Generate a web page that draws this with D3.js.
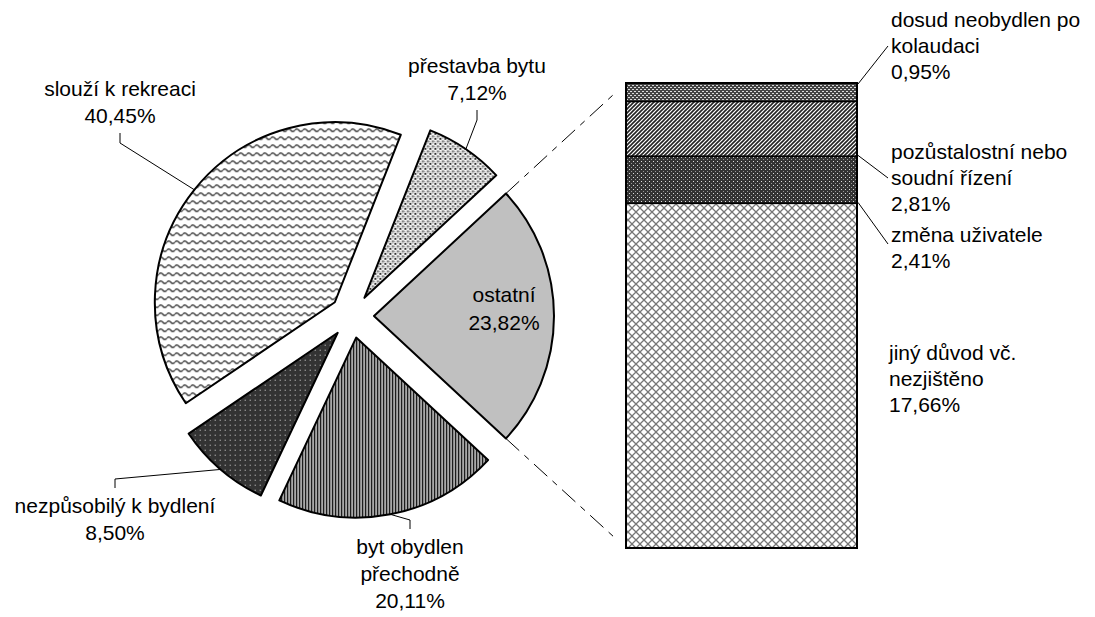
<!DOCTYPE html>
<html>
<head>
<meta charset="utf-8">
<script src="https://cdn.jsdelivr.net/npm/d3@7"></script>
<style>
  body { margin: 0; background: #fff; }
  svg text { font-family: "Liberation Sans", Arial, sans-serif; font-size: 21px; fill: #000; }
</style>
</head>
<body>
<svg id="chart" width="1095" height="617"></svg>
<script>
// pie slices (clockwise, starting with the "ostatní" slice that faces the bar)
const pieNames = ['ostatní', 'byt obydlen přechodně', 'nezpůsobilý k bydlení', 'slouží k rekreaci', 'přestavba bytu'];
const pieValues = [23.82, 20.11, 8.50, 40.45, 7.12];
const piePatterns = ['solidGray', 'vStripes', 'darkDots', 'waves', 'dotGrid'];

// breakdown of "ostatní" shown in the bar (top to bottom)
const barNames = ['dosud neobydlen po kolaudaci', 'pozůstalostní nebo soudní řízení', 'změna uživatele', 'jiný důvod vč. nezjištěno'];
const barValues = [0.95, 2.81, 2.41, 17.66];
const barPatterns = ['dashes', 'diag', 'darkCross', 'trellis'];

const fmt = v => v.toFixed(2).replace('.', ',') + '%';

const svg = d3.select('#chart');
const defs = svg.append('defs');

// --- fill patterns ---
const pat = (id, w, h) => defs.append('pattern')
  .attr('id', id).attr('patternUnits', 'userSpaceOnUse')
  .attr('width', w).attr('height', h);

let p = pat('waves', 8, 8);
p.append('rect').attr('width', 8).attr('height', 8).attr('fill', '#fff');
p.append('path').attr('d', 'M0,4 Q2,1.5 4,4 T8,4').attr('fill', 'none').attr('stroke', '#444').attr('stroke-width', 1.5);

p = pat('dotGrid', 5, 5);
p.append('rect').attr('width', 5).attr('height', 5).attr('fill', '#fff');
p.append('rect').attr('x', 0).attr('y', 0).attr('width', 2).attr('height', 2).attr('fill', '#333');
p.append('rect').attr('x', 2.5).attr('y', 2.5).attr('width', 2).attr('height', 2).attr('fill', '#555');
p.append('rect').attr('x', 3).attr('y', 0).attr('width', 1).attr('height', 1).attr('fill', '#999');
p.append('rect').attr('x', 0).attr('y', 3).attr('width', 1).attr('height', 1).attr('fill', '#999');

p = pat('darkDots', 5, 5);
p.append('rect').attr('width', 5).attr('height', 5).attr('fill', '#333');
p.append('rect').attr('x', 2).attr('y', 2).attr('width', 1).attr('height', 1).attr('fill', '#ddd');

p = pat('vStripes', 3, 3);
p.append('rect').attr('width', 3).attr('height', 3).attr('fill', '#a8a8a8');
p.append('rect').attr('width', 1).attr('height', 3).attr('fill', '#000');

p = pat('solidGray', 4, 4);
p.append('rect').attr('width', 4).attr('height', 4).attr('fill', '#c0c0c0');

p = pat('dashes', 4, 4);
p.append('rect').attr('width', 4).attr('height', 4).attr('fill', '#444');
p.append('rect').attr('x', 0).attr('y', 1).attr('width', 2).attr('height', 1).attr('fill', '#ddd');
p.append('rect').attr('x', 2).attr('y', 3).attr('width', 2).attr('height', 1).attr('fill', '#ddd');

p = pat('diag', 4, 4);
p.append('rect').attr('width', 4).attr('height', 4).attr('fill', '#fff');
p.append('path').attr('d', 'M-1,1 L1,-1 M0,4 L4,0 M3,5 L5,3').attr('stroke', '#222').attr('stroke-width', 1.6);

p = pat('darkCross', 4, 4);
p.append('rect').attr('width', 4).attr('height', 4).attr('fill', '#333');
p.append('rect').attr('x', 1).attr('y', 1).attr('width', 1).attr('height', 1).attr('fill', '#ddd');
p.append('rect').attr('x', 3).attr('y', 3).attr('width', 1).attr('height', 1).attr('fill', '#999');

p = pat('trellis', 8, 8);
p.append('rect').attr('width', 8).attr('height', 8).attr('fill', '#fff');
p.append('path').attr('d', 'M0,0 L8,8 M8,0 L0,8').attr('stroke', '#777').attr('stroke-width', 1.3);

// --- pie ---
const cx = 352, cy = 316, R = 180, EXPLODE = 22;
const total = d3.sum(pieValues);
const start = Math.PI / 2 - Math.PI * pieValues[0] / total;

const pie = d3.pie().sort(null).value(d => d)
  .startAngle(start).endAngle(start + 2 * Math.PI);
const arcs = pie(pieValues);
const arc = d3.arc().innerRadius(0).outerRadius(R);

const mid = d => (d.startAngle + d.endAngle) / 2;
const offset = (d, r) => [Math.sin(mid(d)) * r, -Math.cos(mid(d)) * r];

const slices = svg.append('g').attr('transform', `translate(${cx},${cy})`)
  .selectAll('g').data(arcs).enter().append('g')
  .attr('transform', d => 'translate(' + offset(d, EXPLODE) + ')');

slices.append('path')
  .attr('d', arc)
  .attr('fill', (d, i) => `url(#${piePatterns[i]})`)
  .attr('stroke', '#000')
  .attr('stroke-width', 2)
  .attr('stroke-linejoin', 'round');

// label layout for outside labels: [anchor x, anchor y, text side, wrapped name]
const pieLabelPos = [
  null,
  [410, 529, 'below', ['byt obydlen', 'přechodně']],
  [115, 488, 'below', ['nezpůsobilý k bydlení']],
  [120, 133, 'above', ['slouží k rekreaci']],
  [477, 110, 'above', ['přestavba bytu']]
];
const LH = 27;

arcs.forEach((d, i) => {
  const [ox, oy] = offset(d, EXPLODE);
  if (i === 0) {
    // inside label
    const [lx, ly] = offset(d, 130);
    const t = svg.append('text').attr('text-anchor', 'middle');
    t.append('tspan').attr('x', cx + ox + lx).attr('y', cy + oy + ly - 14).text(pieNames[i]);
    t.append('tspan').attr('x', cx + ox + lx).attr('y', cy + oy + ly + 14).text(fmt(pieValues[i]));
    return;
  }
  const [ax, ay] = offset(d, R);
  const edge = [cx + ox + ax, cy + oy + ay];
  const [tx, ty, side, lines] = pieLabelPos[i];
  const stub = side === 'below' ? ty - 9 : ty + 10;
  svg.append('polyline')
    .attr('points', [edge, [tx, stub], [tx, ty]].map(q => q.join(',')).join(' '))
    .attr('fill', 'none').attr('stroke', '#000').attr('stroke-width', 1);

  const all = lines.concat([fmt(pieValues[i])]);
  const t = svg.append('text').attr('text-anchor', 'middle');
  all.forEach((s, k) => {
    const y = side === 'below'
      ? ty + 25 + k * LH
      : ty - 10 - (all.length - 1 - k) * LH;
    t.append('tspan').attr('x', tx).attr('y', y).text(s);
  });
});

// --- bar ---
const barX = 626, barW = 231, barTop = 83, barBottom = 548;
const y = d3.scaleLinear().domain([0, d3.sum(barValues)]).range([barTop, barBottom]);
const cum = barValues.map((v, i) => d3.sum(barValues.slice(0, i)));

svg.append('g').selectAll('rect').data(barValues).enter().append('rect')
  .attr('x', barX)
  .attr('y', (d, i) => y(cum[i]))
  .attr('width', barW)
  .attr('height', (d, i) => y(cum[i] + d) - y(cum[i]))
  .attr('fill', (d, i) => `url(#${barPatterns[i]})`)
  .attr('stroke', '#000')
  .attr('stroke-width', 1.5);

svg.append('rect')
  .attr('x', barX).attr('y', barTop).attr('width', barW).attr('height', barBottom - barTop)
  .attr('fill', 'none').attr('stroke', '#000').attr('stroke-width', 2);

// series lines from the "ostatní" slice to the bar
const o = arcs[0];
const [oox, ooy] = offset(o, EXPLODE);
const cornerTop = [cx + oox + Math.sin(o.startAngle) * R, cy + ooy - Math.cos(o.startAngle) * R];
const cornerBot = [cx + oox + Math.sin(o.endAngle) * R, cy + ooy - Math.cos(o.endAngle) * R];
[[cornerTop, [barX, barTop]], [cornerBot, [barX, barBottom]]].forEach(([a, b]) => {
  const f = 0.9;
  svg.append('line')
    .attr('x1', a[0]).attr('y1', a[1])
    .attr('x2', a[0] + (b[0] - a[0]) * f).attr('y2', a[1] + (b[1] - a[1]) * f)
    .attr('stroke', '#000').attr('stroke-width', 1)
    .attr('stroke-dasharray', '18,7,6,7');
});

// bar labels: [text left x, middle line baseline, wrapped name]
const barLabelPos = [
  [891, 53, ['dosud neobydlen po', 'kolaudaci']],
  [891, 185, ['pozůstalostní nebo', 'soudní řízení']],
  [891, 242, ['změna uživatele']],
  [889, 386, ['jiný důvod vč.', 'nezjištěno']]
];
const BLH = 26;
barValues.forEach((v, i) => {
  const [lx, base, lines] = barLabelPos[i];
  const all = lines.concat([fmt(v)]);
  const first = all.length === 3 ? base - BLH : base;
  const t = svg.append('text');
  all.forEach((s, k) => t.append('tspan').attr('x', lx).attr('y', first + k * BLH).text(s));
  if (i < 3) {
    const y0 = y(cum[i]), y1 = y(cum[i] + v);
    const target = all.length === 3 ? base - 7 : base + 2;
    const sy = Math.max(y0 + 1, Math.min(y1 - 1, target));
    svg.append('line')
      .attr('x1', barX + barW + 1).attr('y1', sy)
      .attr('x2', lx - 3).attr('y2', target)
      .attr('stroke', '#000').attr('stroke-width', 1);
  }
});
</script>
</body>
</html>
